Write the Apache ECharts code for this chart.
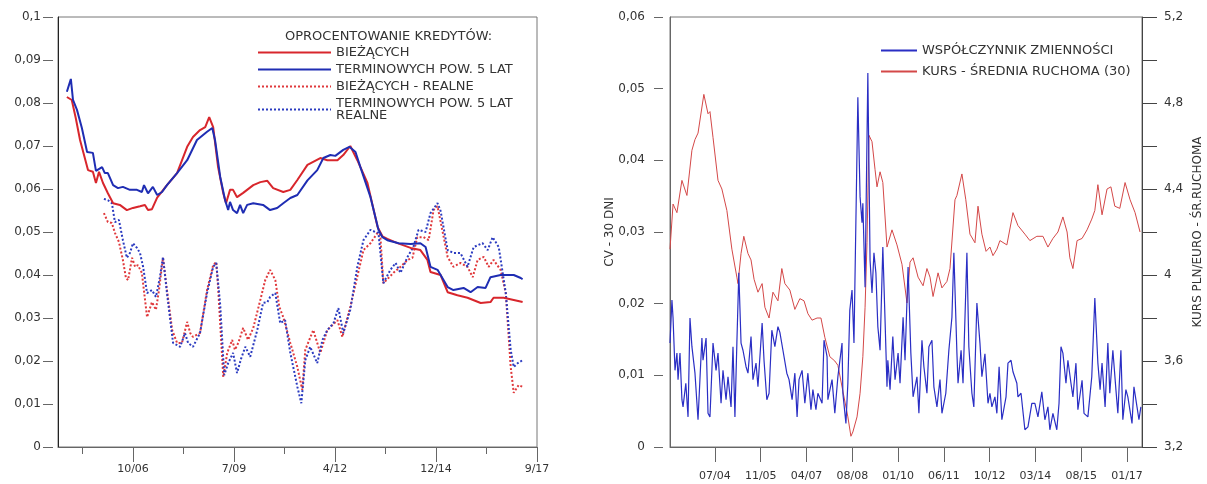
<!DOCTYPE html>
<html>
<head>
<meta charset="utf-8">
<script src="https://cdn.jsdelivr.net/npm/echarts@6.0.0/dist/echarts.min.js"></script>
<style>
  html, body { margin: 0; padding: 0; background: #ffffff; }
  #chart { width: 1207px; height: 484px; }
</style>
</head>
<body>
<div id="chart"></div>
<script>
// Time is counted in months from January 2000 (0 = 01/2000).

// ---- Left panel: loan interest rates ----
const leftMajorTicks = [81, 114, 147, 180, 213];
const leftMajorLabels = ['10/06', '7/09', '4/12', '12/14', '9/17'];
const leftMinorTicks = [64.5, 97.5, 130.5, 163.5, 196.5];

const curNominal = [
  [59.4,.0814],[61.0,.0807],[62.3,.0765],[63.7,.0714],[66.3,.0644],[67.9,.0640],[68.9,.0614],[69.9,.0640],
  [71.2,.0614],[72.8,.0590],[74.5,.0567],[76.7,.0563],[79.0,.0551],[81.0,.0556],[83.3,.0560],[84.9,.0563],
  [85.9,.0551],[87.2,.0553],[88.9,.0580],[92.1,.0609],[95.4,.0637],[98.7,.0698],[100.6,.0721],[102.9,.0737],
  [104.6,.0744],[105.9,.0767],[107.2,.0744],[108.8,.0651],[110.5,.0590],[111.4,.0567],[112.7,.0598],[113.7,.0598],
  [115.0,.0581],[117.0,.0591],[120.3,.0609],[122.6,.0616],[124.9,.0619],[126.8,.0602],[130.1,.0593],[132.4,.0598],
  [134.7,.0621],[138.0,.0656],[142.2,.0672],[144.5,.0667],[147.8,.0667],[149.7,.0679],[152.0,.0700],[154.3,.0667],
  [157.6,.0614],[160.9,.0512],[162.5,.0490],[164.1,.0484],[167.4,.0474],[171.7,.0463],[174.9,.0458],[177.2,.0435],
  [178.2,.0407],[181.5,.0400],[183.8,.0360],[187.0,.0353],[190.3,.0347],[194.6,.0335],[197.8,.0337],[198.8,.0347],
  [202.1,.0347],[205.4,.0342],[208.3,.0337]
];

const termNominal = [
  [59.4,.0826],[60.7,.0856],[61.4,.0807],[62.7,.0784],[64.3,.0742],[66.0,.0686],[67.9,.0684],[68.9,.0642],
  [70.9,.0651],[71.8,.0637],[72.8,.0637],[74.5,.0609],[76.1,.0602],[77.7,.0605],[80.0,.0598],[82.3,.0598],
  [83.9,.0593],[84.6,.0609],[85.9,.0590],[87.5,.0605],[88.9,.0586],[90.5,.0593],[92.1,.0609],[95.4,.0637],
  [98.7,.0667],[101.9,.0714],[105.2,.0733],[106.9,.0742],[107.8,.0714],[109.5,.0628],[111.1,.0574],[112.1,.0551],
  [112.7,.0570],[113.7,.0551],[115.0,.0544],[116.0,.0563],[117.0,.0544],[118.3,.0563],[120.3,.0567],[123.5,.0563],
  [125.8,.0551],[128.1,.0556],[130.1,.0567],[132.4,.0579],[134.7,.0586],[138.0,.0620],[141.2,.0644],[143.2,.0672],
  [145.5,.0679],[147.1,.0677],[149.7,.0691],[151.7,.0698],[153.7,.0686],[155.3,.0651],[158.6,.0581],[161.2,.0505],
  [162.5,.0488],[164.1,.0481],[167.8,.0474],[171.7,.0472],[174.9,.0474],[176.6,.0465],[178.2,.0419],[180.5,.0412],
  [183.8,.0372],[185.7,.0365],[189.0,.0370],[191.3,.0360],[193.6,.0372],[196.2,.0370],[197.8,.0395],[201.1,.0400],
  [205.4,.0400],[207.7,.0393],[208.3,.0390]
];

const curReal = [
  [71.5,.0544],[72.8,.0523],[74.1,.0521],[75.1,.0498],[76.4,.0477],[77.7,.0435],[78.7,.0393],[79.4,.0388],
  [80.7,.0440],[81.7,.0419],[82.6,.0423],[83.9,.0405],[85.6,.0302],[87.2,.0337],[88.5,.0319],[89.5,.0365],
  [90.8,.0440],[92.1,.0365],[93.8,.0272],[95.4,.0242],[97.0,.0242],[98.7,.0291],[99.7,.0265],[100.6,.0256],
  [102.9,.0265],[105.2,.0365],[107.2,.0423],[108.2,.0430],[108.8,.0372],[110.5,.0163],[111.8,.0219],[113.4,.0249],
  [114.3,.0226],[115.4,.0242],[117.0,.0277],[118.6,.0249],[120.3,.0277],[122.6,.0342],[124.2,.0388],[125.8,.0412],
  [127.5,.0388],[128.8,.0326],[130.1,.0302],[132.4,.0242],[134.7,.0186],[136.3,.0133],[137.3,.0226],[139.9,.0272],
  [142.2,.0219],[144.5,.0272],[147.8,.0295],[149.4,.0256],[152.0,.0326],[156.3,.0458],[158.6,.0474],[160.9,.0498],
  [161.8,.0493],[162.8,.0381],[166.1,.0405],[168.4,.0419],[170.7,.0435],[172.3,.0440],[173.9,.0488],[175.9,.0488],
  [177.6,.0481],[179.2,.0551],[180.5,.0560],[183.8,.0442],[185.7,.0419],[188.0,.0428],[190.3,.0419],[192.0,.0395],
  [193.6,.0435],[195.6,.0442],[197.2,.0419],[198.8,.0435],[201.1,.0412],[202.8,.0358],[204.4,.0186],[205.4,.0126],
  [207.0,.0144],[208.3,.0140]
];

const termReal = [
  [71.5,.0577],[72.8,.0574],[74.1,.0567],[75.1,.0523],[76.4,.0528],[77.7,.0481],[79.0,.0440],[80.0,.0451],
  [81.0,.0474],[82.3,.0463],[83.3,.0451],[84.3,.0419],[85.6,.0358],[87.2,.0365],[88.5,.0349],[89.8,.0395],
  [90.8,.0442],[92.1,.0358],[94.1,.0242],[96.4,.0233],[98.0,.0265],[99.0,.0242],[100.6,.0233],[102.9,.0265],
  [105.2,.0358],[107.2,.0419],[108.2,.0428],[109.5,.0330],[110.8,.0167],[112.1,.0195],[113.7,.0219],[115.0,.0172],
  [116.3,.0205],[117.7,.0233],[119.3,.0210],[121.6,.0272],[123.5,.0335],[124.9,.0337],[125.8,.0349],[127.5,.0358],
  [129.1,.0288],[130.7,.0295],[132.4,.0219],[134.7,.0140],[136.0,.0102],[137.3,.0202],[138.9,.0233],[141.2,.0195],
  [142.9,.0249],[144.5,.0272],[146.5,.0288],[148.1,.0323],[149.7,.0265],[152.0,.0319],[154.3,.0419],[156.3,.0481],
  [158.6,.0505],[160.2,.0500],[161.2,.0498],[162.8,.0381],[165.1,.0412],[166.8,.0428],[168.4,.0405],[170.7,.0442],
  [172.6,.0465],[174.3,.0505],[176.6,.0500],[178.2,.0544],[180.5,.0567],[181.5,.0549],[183.8,.0458],[185.7,.0451],
  [188.0,.0451],[190.3,.0419],[192.3,.0465],[195.2,.0474],[196.9,.0458],[198.5,.0488],[200.5,.0465],[202.8,.0358],
  [204.4,.0226],[205.4,.0186],[206.7,.0195],[208.3,.0202]
];

// ---- Right panel: PLN/EUR volatility and moving average ----
const rightTicks = [54, 70.5, 87, 103.5, 120, 136.5, 153, 169.5, 186, 202.5];
const rightLabels = ['07/04', '11/05', '04/07', '08/08', '01/10', '06/11', '10/12', '03/14', '08/15', '01/17'];

const cvRatio = [
  [37.8,.0145],[38.5,.0205],[38.9,.0180],[39.6,.0107],[40.3,.0131],[40.7,.0094],[41.4,.0131],[42.1,.0066],
  [42.5,.0056],[43.5,.0089],[44.3,.0042],[45.0,.0180],[45.7,.0140],[46.8,.0103],[47.9,.0038],[49.3,.0152],
  [49.7,.0121],[50.8,.0152],[51.5,.0047],[52.2,.0042],[53.3,.0145],[54.4,.0107],[55.1,.0131],[56.2,.0061],
  [56.9,.0107],[58.0,.0066],[58.7,.0098],[59.8,.0056],[60.5,.0140],[61.2,.0042],[61.9,.0145],[62.6,.0243],
  [63.4,.0145],[64.1,.0135],[65.2,.0112],[65.9,.0103],[67.0,.0154],[67.7,.0094],[68.8,.0117],[69.5,.0084],
  [71.0,.0173],[71.7,.0120],[72.7,.0066],[73.5,.0075],[74.5,.0163],[75.6,.0140],[76.7,.0168],[77.4,.0160],
  [78.5,.0135],[79.9,.0103],[80.7,.0094],[81.8,.0066],[82.8,.0103],[83.6,.0042],[84.3,.0094],[85.4,.0107],
  [86.4,.0061],[87.5,.0103],[88.6,.0052],[89.3,.0080],[90.4,.0052],[91.1,.0075],[92.6,.0061],[93.3,.0149],
  [94.4,.0126],[94.7,.0066],[96.2,.0094],[97.2,.0047],[98.3,.0098],[99.8,.0145],[100.1,.0075],[101.2,.0033],
  [101.9,.0089],[102.6,.0191],[103.4,.0219],[104.1,.0145],[105.5,.0488],[106.3,.0349],[107.0,.0313],[107.3,.0340],
  [108.1,.0223],[109.1,.0522],[109.9,.0261],[110.6,.0215],[111.3,.0271],[112.0,.0243],[112.7,.0168],[113.5,.0135],
  [114.5,.0279],[115.3,.0177],[116.0,.0084],[116.3,.0121],[117.1,.0080],[118.1,.0154],[118.9,.0094],[120.0,.0131],
  [120.7,.0089],[121.8,.0181],[122.5,.0121],[123.6,.0251],[124.6,.0131],[125.4,.0070],[126.8,.0098],[127.5,.0047],
  [128.6,.0149],[129.3,.0112],[130.4,.0075],[131.1,.0140],[132.2,.0149],[132.9,.0084],[134.0,.0056],[135.1,.0094],
  [135.8,.0047],[137.2,.0075],[138.3,.0135],[139.4,.0181],[140.1,.0271],[141.2,.0131],[141.6,.0089],[142.7,.0135],
  [143.4,.0089],[144.8,.0271],[145.5,.0140],[146.6,.0075],[147.3,.0056],[148.4,.0201],[149.5,.0145],[150.2,.0098],
  [151.3,.0130],[152.4,.0061],[153.1,.0075],[153.8,.0056],[154.9,.0070],[155.6,.0047],[156.4,.0112],[157.4,.0038],
  [158.9,.0070],[159.6,.0117],[160.7,.0121],[161.4,.0105],[162.8,.0089],[163.2,.0070],[164.3,.0075],[165.7,.0024],
  [166.8,.0028],[168.2,.0061],[169.3,.0061],[170.4,.0042],[171.8,.0077],[172.9,.0038],[174.0,.0056],[174.7,.0024],
  [175.8,.0047],[177.2,.0024],[178.0,.0061],[178.7,.0140],[179.4,.0131],[180.5,.0089],[181.2,.0121],[182.3,.0089],
  [183.0,.0070],[184.1,.0117],[184.8,.0052],[186.3,.0093],[187.0,.0047],[188.4,.0042],[189.8,.0098],[190.9,.0208],
  [192.0,.0117],[192.8,.0080],[193.5,.0117],[194.6,.0056],[195.6,.0145],[196.3,.0075],[197.4,.0135],[198.5,.0080],
  [199.2,.0047],[200.3,.0135],[201.0,.0038],[202.1,.0080],[202.8,.0070],[204.3,.0033],[205.0,.0084],[206.1,.0056],
  [206.8,.0038],[207.5,.0056]
];

const kursAvg = [
  [37.8,4.12],[38.9,4.33],[40.3,4.29],[42.1,4.44],[43.9,4.37],[45.7,4.58],[46.8,4.63],[47.9,4.66],
  [50.0,4.84],[51.5,4.75],[52.2,4.76],[53.3,4.64],[55.1,4.44],[56.5,4.40],[58.3,4.30],[60.1,4.12],
  [61.9,3.99],[62.3,3.96],[63.4,4.10],[64.4,4.18],[65.9,4.10],[67.0,4.07],[68.1,3.98],[69.5,3.92],
  [71.0,3.96],[72.0,3.85],[73.5,3.80],[74.9,3.92],[76.7,3.88],[78.1,4.03],[79.2,3.96],[81.0,3.93],
  [82.8,3.84],[84.6,3.89],[86.1,3.88],[87.5,3.82],[89.0,3.79],[90.8,3.80],[92.2,3.80],[93.6,3.71],
  [95.4,3.62],[97.2,3.60],[98.3,3.58],[100.1,3.46],[101.9,3.34],[103.0,3.25],[103.7,3.27],[105.2,3.34],
  [106.3,3.45],[107.3,3.62],[108.1,3.85],[108.8,4.15],[109.5,4.65],[110.6,4.62],[111.7,4.49],[112.4,4.41],
  [113.5,4.48],[114.5,4.43],[116.0,4.13],[117.8,4.21],[119.6,4.14],[121.4,4.05],[123.2,3.87],[124.3,4.06],
  [125.4,4.08],[127.2,3.99],[129.0,3.95],[130.4,4.03],[131.5,3.99],[132.6,3.90],[134.4,4.01],[135.8,3.94],
  [137.6,3.97],[138.7,4.03],[140.5,4.35],[141.2,4.37],[143.0,4.47],[144.4,4.35],[145.9,4.19],[147.7,4.15],
  [148.8,4.32],[150.2,4.19],[151.7,4.11],[153.1,4.13],[154.2,4.09],[155.6,4.12],[156.7,4.16],[159.2,4.14],
  [161.4,4.29],[163.2,4.23],[165.7,4.19],[167.5,4.16],[170.0,4.18],[172.2,4.18],[174.0,4.13],[175.8,4.17],
  [177.6,4.20],[179.4,4.27],[180.9,4.20],[181.9,4.08],[183.0,4.03],[184.5,4.16],[186.3,4.17],[188.1,4.21],
  [189.8,4.26],[190.9,4.30],[192.0,4.42],[193.5,4.28],[195.3,4.40],[196.7,4.41],[198.1,4.32],[199.9,4.31],
  [201.8,4.43],[203.6,4.35],[205.4,4.29],[207.2,4.20]
];

// ---- helpers ----
const FONT = 'DejaVu Sans';
const TXT = '#333333';
const decimalComma = v => String(+v.toFixed(2)).replace('.', ',');
const tickLabel = (ticks, labels) => v => {
  const i = ticks.findIndex(t => Math.abs(t - v) < 0.01);
  return i >= 0 ? labels[i] : '';
};

const chart = echarts.init(document.getElementById('chart'), null, { renderer: 'canvas' });

const option = {
  animation: false,
  backgroundColor: '#ffffff',
  textStyle: { fontFamily: FONT, color: TXT },
  title: {
    text: 'OPROCENTOWANIE KREDYTÓW:',
    left: 285, top: 30, padding: 0,
    textStyle: { fontFamily: FONT, fontSize: 13, fontWeight: 'normal', color: TXT }
  },
  legend: [
    {
      orient: 'vertical', left: 257, top: 46, padding: 0,
      itemWidth: 73, itemHeight: 14, itemGap: 4,
      itemStyle: { opacity: 0 },
      textStyle: { fontFamily: FONT, fontSize: 13, color: TXT, lineHeight: 12 },
      data: ['BIEŻĄCYCH', 'TERMINOWYCH POW. 5 LAT', 'BIEŻĄCYCH - REALNE', 'TERMINOWYCH POW. 5 LAT\nREALNE']
    },
    {
      orient: 'vertical', left: 880, top: 44, padding: 0,
      itemWidth: 36, itemHeight: 14, itemGap: 8,
      itemStyle: { opacity: 0 },
      textStyle: { fontFamily: FONT, fontSize: 13, color: TXT },
      data: ['WSPÓŁCZYNNIK ZMIENNOŚCI', 'KURS - ŚREDNIA RUCHOMA (30)']
    }
  ],
  grid: [
    { left: 58, right: 670, top: 17, bottom: 37, show: true, borderColor: '#777', borderWidth: 1 },
    { left: 670, right: 65, top: 17, bottom: 37, show: true, borderColor: '#777', borderWidth: 1 }
  ],
  xAxis: [
    { // left panel, labelled ticks
      type: 'value', gridIndex: 0, position: 'bottom', min: 56.5, max: 213,
      axisLine: { show: true, onZero: false, lineStyle: { color: '#666' } },
      axisTick: { show: true, length: 15, customValues: leftMajorTicks, lineStyle: { color: '#666' } },
      axisLabel: { show: true, margin: 17, customValues: leftMajorTicks, fontFamily: FONT, fontSize: 11, color: TXT,
                   formatter: tickLabel(leftMajorTicks, leftMajorLabels) },
      splitLine: { show: false }
    },
    { // left panel, minor ticks
      type: 'value', gridIndex: 0, position: 'bottom', min: 56.5, max: 213,
      axisLine: { show: false, onZero: false },
      axisTick: { show: true, length: 7, customValues: leftMinorTicks, lineStyle: { color: '#666' } },
      axisLabel: { show: false },
      splitLine: { show: false }
    },
    { // right panel
      type: 'value', gridIndex: 1, position: 'bottom', min: 37.8, max: 207.9,
      axisLine: { show: true, onZero: false, lineStyle: { color: '#666' } },
      axisTick: { show: true, length: 15, customValues: rightTicks, lineStyle: { color: '#666' } },
      axisLabel: { show: true, margin: 24, customValues: rightTicks, fontFamily: FONT, fontSize: 11, color: TXT,
                   formatter: tickLabel(rightTicks, rightLabels) },
      splitLine: { show: false }
    }
  ],
  yAxis: [
    { // left panel frame line
      type: 'value', gridIndex: 0, position: 'left', min: 0, max: 0.1, interval: 0.01,
      axisLine: { show: true, onZero: false, lineStyle: { color: '#222' } },
      axisTick: { show: false }, axisLabel: { show: false }, splitLine: { show: false }
    },
    { // left panel ticks and labels, set slightly apart from the frame
      type: 'value', gridIndex: 0, position: 'left', offset: 5, min: 0, max: 0.1, interval: 0.01,
      axisLine: { show: false, onZero: false },
      axisTick: { show: true, length: 10, lineStyle: { color: '#666' } },
      axisLabel: { margin: 12, fontFamily: FONT, fontSize: 12, color: TXT, formatter: decimalComma },
      splitLine: { show: false }
    },
    { // right panel, CV frame line and title
      type: 'value', gridIndex: 1, position: 'left', min: 0, max: 0.06, interval: 0.01,
      name: 'CV - 30 DNI', nameLocation: 'middle', nameRotate: 90, nameGap: 54,
      nameTextStyle: { fontFamily: FONT, fontSize: 12, color: TXT },
      axisLine: { show: true, onZero: false, lineStyle: { color: '#666' } },
      axisTick: { show: false }, axisLabel: { show: false }, splitLine: { show: false }
    },
    { // right panel, CV ticks and labels
      type: 'value', gridIndex: 1, position: 'left', offset: 7, min: 0, max: 0.06, interval: 0.01,
      axisLine: { show: false, onZero: false },
      axisTick: { show: true, length: 9, lineStyle: { color: '#666' } },
      axisLabel: { margin: 18, fontFamily: FONT, fontSize: 12, color: TXT, formatter: decimalComma },
      splitLine: { show: false }
    },
    { // right panel, exchange rate
      type: 'value', gridIndex: 1, position: 'right', min: 3.2, max: 5.2, interval: 0.2,
      name: 'KURS PLN/EURO - ŚR.RUCHOMA', nameLocation: 'middle', nameRotate: 90, nameGap: 50,
      nameTextStyle: { fontFamily: FONT, fontSize: 12, color: TXT },
      axisLine: { show: true, onZero: false, lineStyle: { color: '#444' } },
      axisTick: { show: true, length: 15, lineStyle: { color: '#444' } },
      axisLabel: { margin: 22, fontFamily: FONT, fontSize: 12, color: TXT,
                   formatter: v => (Math.round((v - 3.2) / 0.2) % 2 === 0 ? String(+v.toFixed(1)).replace('.', ',') : '') },
      splitLine: { show: false }
    }
  ],
  series: [
    { name: 'BIEŻĄCYCH', type: 'line', xAxisIndex: 0, yAxisIndex: 0, data: curNominal,
      symbol: 'none', lineStyle: { color: '#d8262c', width: 2 }, itemStyle: { color: '#d8262c' }, z: 3 },
    { name: 'TERMINOWYCH POW. 5 LAT', type: 'line', xAxisIndex: 0, yAxisIndex: 0, data: termNominal,
      symbol: 'none', lineStyle: { color: '#1f2db3', width: 2 }, itemStyle: { color: '#1f2db3' }, z: 4 },
    { name: 'BIEŻĄCYCH - REALNE', type: 'line', xAxisIndex: 0, yAxisIndex: 0, data: curReal,
      symbol: 'none', lineStyle: { color: '#e0393c', width: 2, type: [2, 2] }, itemStyle: { color: '#e0393c' }, z: 2 },
    { name: 'TERMINOWYCH POW. 5 LAT\nREALNE', type: 'line', xAxisIndex: 0, yAxisIndex: 0, data: termReal,
      symbol: 'none', lineStyle: { color: '#2b3bc0', width: 2, type: [2, 2] }, itemStyle: { color: '#2b3bc0' }, z: 2 },
    { name: 'WSPÓŁCZYNNIK ZMIENNOŚCI', type: 'line', xAxisIndex: 2, yAxisIndex: 2, data: cvRatio,
      symbol: 'none', lineStyle: { color: '#2a2ec4', width: 1.2 }, itemStyle: { color: '#2a2ec4' }, z: 3 },
    { name: 'KURS - ŚREDNIA RUCHOMA (30)', type: 'line', xAxisIndex: 2, yAxisIndex: 4, data: kursAvg,
      symbol: 'none', lineStyle: { color: '#d44848', width: 1 }, itemStyle: { color: '#d44848' }, z: 2 }
  ]
};

chart.setOption(option);
</script>
</body>
</html>
